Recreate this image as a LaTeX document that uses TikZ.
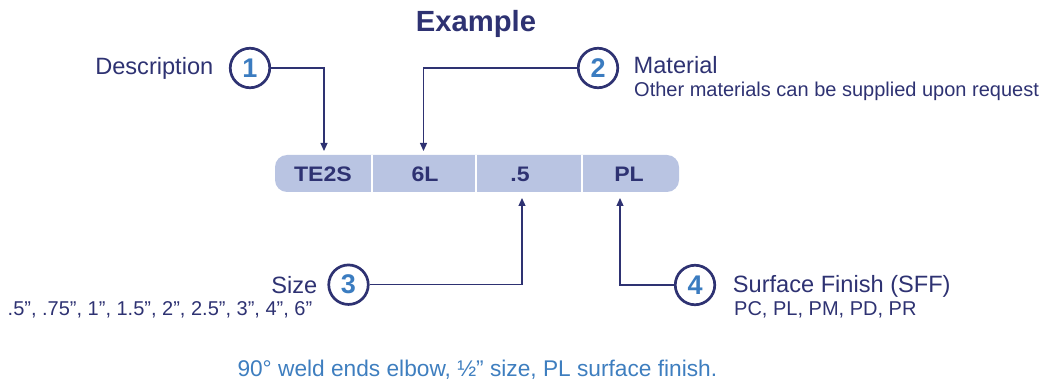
\documentclass[tikz,border=0pt]{standalone}
\usepackage{fontspec}
\setmainfont{Liberation Sans}
\usetikzlibrary{arrows.meta}
\definecolor{navy}{HTML}{2E3272}
\definecolor{digit}{HTML}{3B7CC0}
\definecolor{barfill}{HTML}{B9C4E2}
\definecolor{note}{HTML}{3E7EBF}
\begin{document}
\begin{tikzpicture}[x=1pt,y=-1pt,
 lbl/.style={inner sep=0pt, text=navy, font=\fontsize{23.6}{28}\selectfont},
 sub/.style={inner sep=0pt, text=navy, font=\fontsize{20}{24}\selectfont},
 num/.style={circle, draw=navy, line width=2.7pt, minimum size=39.5pt, inner sep=0pt, text=digit, font=\bfseries\fontsize{27}{30}\selectfont},
 cell/.style={inner sep=0pt, text=navy, font=\bfseries\fontsize{21}{24}\selectfont},
 barbox/.style={fill=barfill, rounded corners=12pt, minimum width=404pt, minimum height=37pt, inner sep=0pt},
 divider/.style={draw=white, line width=2pt},
 conn/.style={draw=navy, line width=1.2pt, -{Triangle[length=8pt,width=7pt]}}]
\useasboundingbox (0,0) rectangle (1046,379);

% title
\node[inner sep=0pt, anchor=base, text=navy, font=\bfseries\fontsize{29.2}{34}\selectfont] (title) at (476,31.7) {Example};

% bar
\node[barbox] (bar) at (477,173.5) {};
\draw[divider] (372.3,155) -- (372.3,192);
\draw[divider] (476,155) -- (476,192);
\draw[divider] (582.3,155) -- (582.3,192);
\node[cell, anchor=base] (cA) at (323,181.7) {\scalebox{1.1}[1]{TE2S}};
\node[cell, anchor=base] (cB) at (425,181.7) {\scalebox{1.1}[1]{6L}};
\node[cell, anchor=base] (cC) at (520,181.7) {\scalebox{1.1}[1]{.5}};
\node[cell, anchor=base] (cD) at (629,181.7) {\scalebox{1.1}[1]{PL}};

% circles
\node[num] (c1) at (250,68) {1};
\node[num] (c2) at (598,68) {2};
\node[num] (c3) at (348.5,284.7) {3};
\node[num] (c4) at (695,285) {4};

% labels
\node[lbl, anchor=base east] (l1) at (213.5,74.3) {Description};
\node[lbl, anchor=base west] (l2) at (633.5,73.3) {Material};
\node[sub, anchor=base west] (s2) at (634,96.7) {Other materials can be supplied upon request};
\node[lbl, anchor=base east] (l3) at (317.5,294) {Size};
\node[sub, anchor=base west] (s3) at (7.5,315) {.5”, .75”, 1”, 1.5”, 2”, 2.5”, 3”, 4”, 6”};
\node[lbl, anchor=base west] (l4) at (732.7,292.7) {Surface Finish (SFF)};
\node[sub, anchor=base west] (s4) at (734,315) {PC, PL, PM, PD, PR};
\node[inner sep=0pt, anchor=base west, text=note, font=\fontsize{22.7}{26}\selectfont] (note) at (237.3,376) {90° weld ends elbow, ½” size, PL surface finish.};

% connector tips
\coordinate (t1) at (324,151);
\coordinate (t2) at (423.5,151);
\coordinate (t3) at (522,198);
\coordinate (t4) at (620,198);

\draw[conn] (c1.east) -| (t1);
\draw[conn] (c2.west) -| (t2);
\draw[conn] (c3.east) -| (t3);
\draw[conn] (c4.west) -| (t4);
\end{tikzpicture}
\end{document}
